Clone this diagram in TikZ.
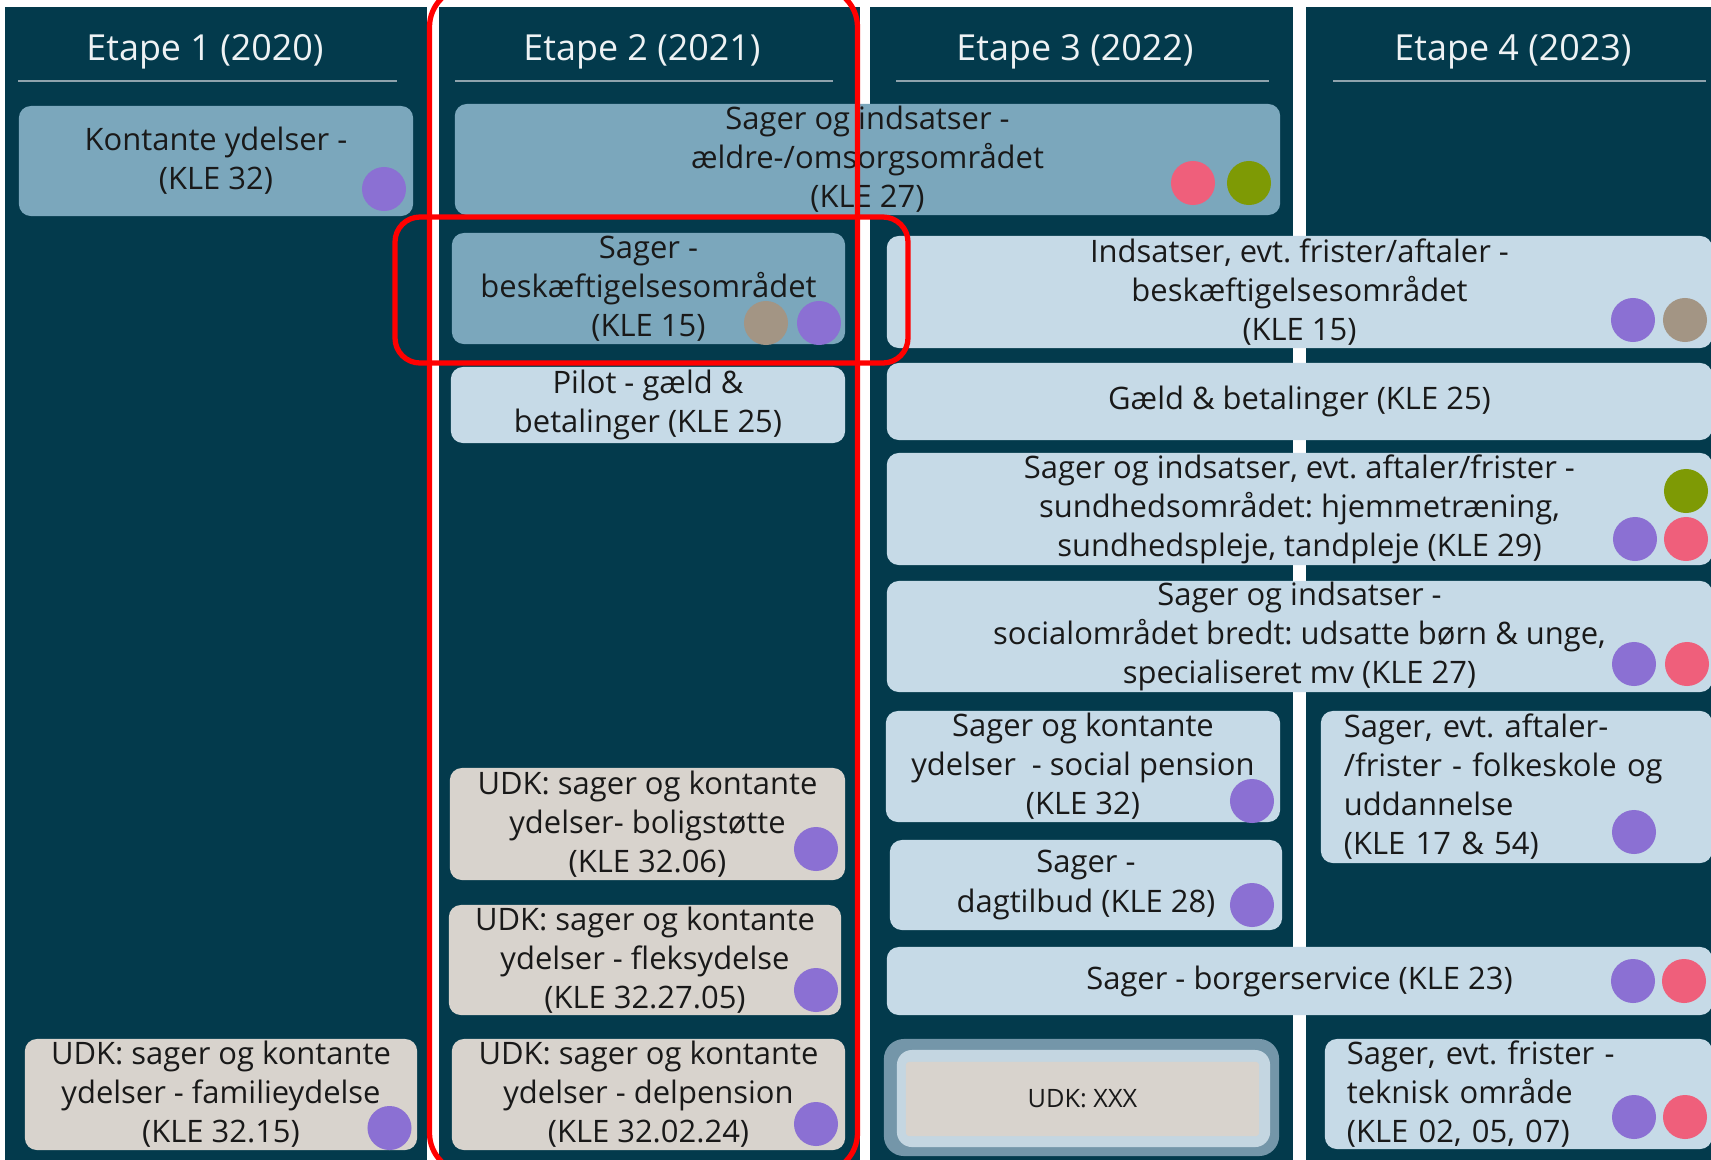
\documentclass[tikz,border=0pt]{standalone}
\usepackage{fontspec}
\setmainfont{Open Sans}
\definecolor{colbg}{HTML}{033A4C}
\definecolor{midbox}{HTML}{7BA7BC}
\definecolor{lightbox}{HTML}{C6DAE7}
\definecolor{udkbox}{HTML}{D8D3CD}
\definecolor{udkframe}{HTML}{7496A9}
\definecolor{udkring}{HTML}{C4D6E1}
\definecolor{dotpurple}{HTML}{8B70D3}
\definecolor{dotpink}{HTML}{EF5F7B}
\definecolor{dotgreen}{HTML}{7E9A05}
\definecolor{dottan}{HTML}{A39584}
\definecolor{headline}{HTML}{8FA3AD}
\definecolor{headtext}{HTML}{EEF2F4}
\begin{document}
\frenchspacing
\begin{tikzpicture}
[x=0.01cm,y=-0.01cm
,kbox/.style={rounded corners=0.12cm,inner xsep=0.1cm,inner ysep=0pt,align=center,text=black!90,font=\fontsize{8.8}{11.1}\selectfont}
,mid/.style={kbox,fill=midbox}
,lys/.style={kbox,fill=lightbox}
,udk/.style={kbox,fill=udkbox}
,dot/.style={circle,inner sep=0pt,minimum size=0.44cm}
,etape/.style={anchor=base,text=headtext,font=\fontsize{10.2}{12}\selectfont}
,hline/.style={draw=headline,line width=0.8pt}
,redframe/.style={draw=red,line width=1.5pt}
]
\useasboundingbox (0,0) rectangle (1711,1160);
\clip (0,0) rectangle (1711,1160);
% columns
\fill[colbg] (5,7) rectangle (427,1160);
\fill[colbg] (439,7) rectangle (860,1160);
\fill[colbg] (870,7) rectangle (1293,1160);
\fill[colbg] (1306,7) rectangle (1711,1160);
% headers
\node[etape] (e1) at (205,60) {Etape 1 (2020)};
\node[etape] (e2) at (642,60) {Etape 2 (2021)};
\node[etape] (e3) at (1075,60) {Etape 3 (2022)};
\node[etape] (e4) at (1513,60) {Etape 4 (2023)};
\draw[hline] (18,81) -- (397,81);
\draw[hline] (455,81) -- (833,81);
\draw[hline] (896,81) -- (1269,81);
\draw[hline] (1333,81) -- (1706,81);
% etape 1
\node[mid,minimum width=3.94cm,minimum height=1.10cm] (kle32) at (216,161) {Kontante ydelser -\\(KLE 32)};
\node[dot,fill=dotpurple] (kle32-p) at (384,189) {};
\node[udk,minimum width=3.92cm,minimum height=1.11cm] (kle3215) at (221,1094.5) {UDK: sager og kontante\\ydelser - familieydelse\\(KLE 32.15)};
\node[dot,fill=dotpurple] (kle3215-p) at (389.5,1128) {};
% etape 2
\node[mid,minimum width=8.25cm,minimum height=1.11cm] (kle27a) at (867.5,159.5) {Sager og indsatser -\\ældre-/omsorgsområdet\\(KLE 27)};
\node[dot,fill=dotpink] (kle27a-r) at (1193,183) {};
\node[dot,fill=dotgreen] (kle27a-g) at (1249,183) {};
\node[mid,minimum width=3.93cm,minimum height=1.11cm] (kle15a) at (648.5,288.5) {Sager -\\beskæftigelsesområdet\\(KLE 15)};
\node[dot,fill=dottan] (kle15a-t) at (766,323) {};
\node[dot,fill=dotpurple] (kle15a-p) at (819,323) {};
\node[lys,minimum width=3.94cm,minimum height=0.76cm] (kle25a) at (648,405) {Pilot - gæld \&\\betalinger (KLE 25)};
\node[udk,minimum width=3.95cm,minimum height=1.12cm] (kle3206) at (647.5,824) {UDK: sager og kontante\\ydelser- boligstøtte\\(KLE 32.06)};
\node[dot,fill=dotpurple] (kle3206-p) at (816,849) {};
\node[udk,minimum width=3.92cm,minimum height=1.10cm] (kle322705) at (645,960) {UDK: sager og kontante\\ydelser - fleksydelse\\(KLE 32.27.05)};
\node[dot,fill=dotpurple] (kle322705-p) at (816,990) {};
\node[udk,minimum width=3.93cm,minimum height=1.11cm] (kle320224) at (648.5,1094.5) {UDK: sager og kontante\\ydelser - delpension\\(KLE 32.02.24)};
\node[dot,fill=dotpurple] (kle320224-p) at (816,1124) {};
% etape 3 og 4
\node[lys,minimum width=8.25cm,minimum height=1.12cm] (kle15b) at (1299.5,292) {Indsatser, evt. frister/aftaler -\\beskæftigelsesområdet\\(KLE 15)};
\node[dot,fill=dotpurple] (kle15b-p) at (1633,320) {};
\node[dot,fill=dottan] (kle15b-t) at (1685,320) {};
\node[lys,minimum width=8.25cm,minimum height=0.77cm] (kle25b) at (1299.5,401.5) {Gæld \& betalinger (KLE 25)};
\node[lys,minimum width=8.25cm,minimum height=1.12cm] (kle29) at (1299.5,509) {Sager og indsatser, evt. aftaler/frister -\\sundhedsområdet: hjemmetræning,\\sundhedspleje, tandpleje (KLE 29)};
\node[dot,fill=dotgreen] (kle29-g) at (1686,491) {};
\node[dot,fill=dotpurple] (kle29-p) at (1635,539) {};
\node[dot,fill=dotpink] (kle29-r) at (1686,539) {};
\node[lys,minimum width=8.25cm,minimum height=1.11cm] (kle27b) at (1299.5,636.5) {Sager og indsatser -\\socialområdet bredt: udsatte børn \& unge,\\specialiseret mv (KLE 27)};
\node[dot,fill=dotpurple] (kle27b-p) at (1634,664) {};
\node[dot,fill=dotpink] (kle27b-r) at (1687,664) {};
\node[lys,minimum width=3.94cm,minimum height=1.11cm] (kle32b) at (1083,766.5) {Sager og kontante\\ydelser~ - social pension\\(KLE 32)};
\node[dot,fill=dotpurple] (kle32b-p) at (1252,801) {};
\node[lys,minimum width=3.91cm,minimum height=1.52cm,align=left,inner xsep=0.23cm,text width=3.45cm] (kle17) at (1516.5,787) {Sager, evt. aftaler-\\/frister - folkeskole og\\uddannelse\\(KLE 17 \& 54)};
\node[dot,fill=dotpurple] (kle17-p) at (1634,832) {};
\node[lys,minimum width=3.92cm,minimum height=0.90cm] (kle28) at (1086,885) {Sager -\\dagtilbud (KLE 28)};
\node[dot,fill=dotpurple] (kle28-p) at (1252,905) {};
\node[lys,minimum width=8.25cm,minimum height=0.68cm] (kle23) at (1299.5,981) {Sager - borgerservice (KLE 23)};
\node[dot,fill=dotpurple] (kle23-p) at (1633,981) {};
\node[dot,fill=dotpink] (kle23-r) at (1684,981) {};
\node[kbox,fill=udkframe,minimum width=3.95cm,minimum height=1.17cm,rounded corners=0.2cm] (xxx-f) at (1081.5,1097.5) {};
\node[kbox,fill=udkring,minimum width=3.73cm,minimum height=0.97cm,rounded corners=0.15cm] (xxx-r) at (1083.5,1098.5) {};
\node[udk,minimum width=3.53cm,minimum height=0.74cm,rounded corners=0.03cm,font=\fontsize{7.2}{9}\selectfont] (xxx) at (1082.5,1099) {UDK: XXX};
\node[lys,minimum width=3.87cm,minimum height=1.10cm,align=left,inner xsep=0.22cm,text width=3.43cm] (kle02) at (1518.5,1094) {Sager, evt. frister -\\teknisk område\\(KLE 02, 05, 07)};
\node[dot,fill=dotpurple] (kle02-p) at (1634,1117) {};
\node[dot,fill=dotpink] (kle02-r) at (1685,1117) {};
% markeringer
\draw[redframe,rounded corners=0.25cm] (395,217) rectangle (908,363);
\draw[redframe,rounded corners=0.4cm] (429.5,-13) rectangle (857.5,1173);
\end{tikzpicture}
\end{document}
